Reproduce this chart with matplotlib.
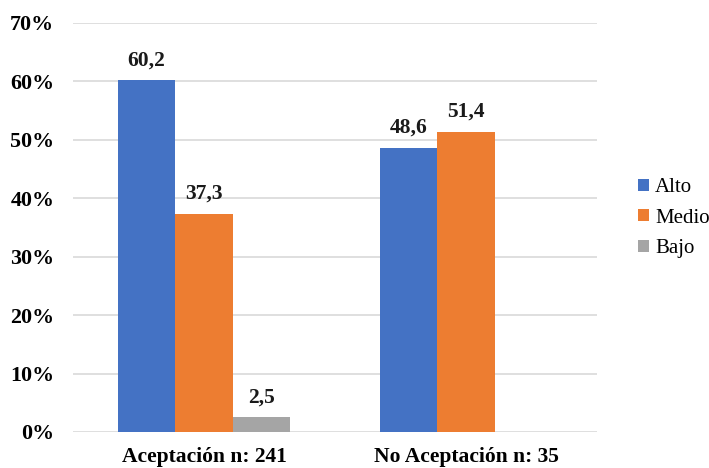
import matplotlib
matplotlib.use("Agg")
import matplotlib.pyplot as plt
import numpy as np

categories = ["Aceptación n: 241", "No Aceptación n: 35"]
series = ["Alto", "Medio", "Bajo"]
alto = [60.2, 48.6]
medio = [37.3, 51.4]
bajo = [2.5, None]
colors = ["#4472C4", "#ED7D31", "#A5A5A5"]

plt.rcParams["font.family"] = ["Liberation Serif", "DejaVu Serif"]

fig = plt.figure(figsize=(7.09, 4.68), dpi=100)
ax = fig.add_axes([0.103, 0.077, 0.739, 0.874])

x = np.arange(len(categories))
width = 0.22
offsets = [-width, 0, width]

for vals, name, color, off in zip([alto, medio, bajo], series, colors, offsets):
    xs = [xi + off for xi, v in zip(x, vals) if v is not None]
    vs = [v for v in vals if v is not None]
    ax.bar(xs, vs, width=width, color=color, label=name, zorder=3)
    for xi, v in zip(xs, vs):
        ax.text(xi, v + 1.7, f"{v:.1f}".replace(".", ","), ha="center", va="bottom",
                fontsize=15.5, fontweight="bold", color="#1a1a1a")

ax.set_xlim(-0.5, 1.5)
ax.set_ylim(0, 70)
ax.set_yticks(np.arange(0, 71, 10))
ax.set_yticklabels([f"{t}%" for t in range(0, 71, 10)], fontsize=15.8, fontweight="bold")
ax.set_xticks(x)
ax.set_xticklabels(categories, fontsize=15.5, fontweight="bold")
ax.tick_params(length=0)
ax.tick_params(axis="x", pad=11)
ax.tick_params(axis="y", pad=13.5)
ax.grid(axis="y", color="#D9D9D9", linewidth=1.2, zorder=0)
for s in ax.spines.values():
    s.set_visible(False)

leg = fig.legend(loc="center left", bbox_to_anchor=(0.874, 0.534), frameon=False,
                 fontsize=15, handlelength=0.5, handleheight=0.5, handletextpad=0.3,
                 labelspacing=0.55)

fig.savefig("out.png", dpi=100)
